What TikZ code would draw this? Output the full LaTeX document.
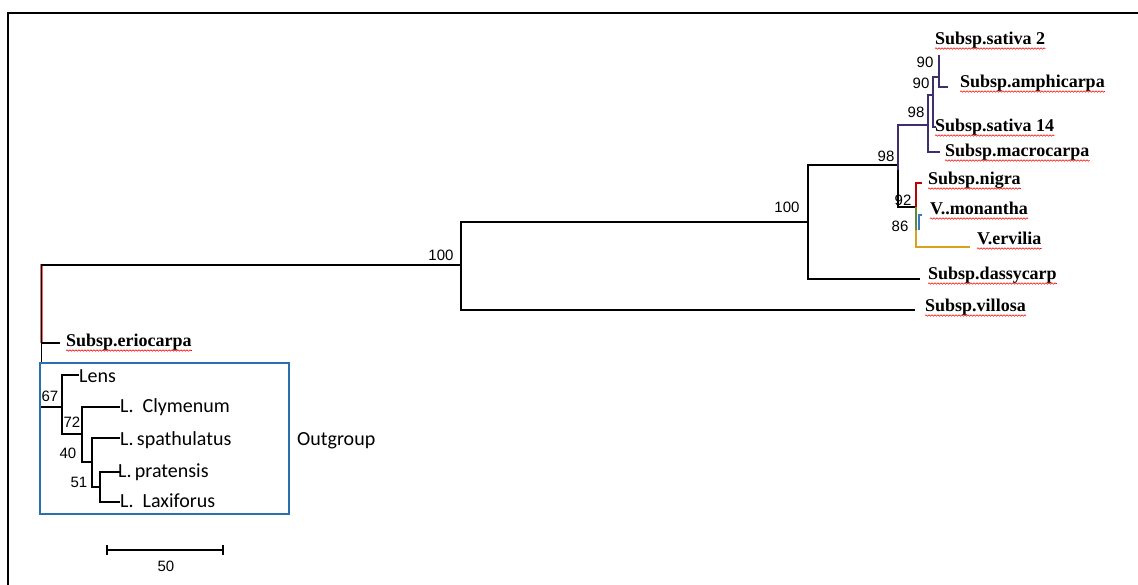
\documentclass[tikz,border=0pt]{standalone}
\usepackage{fontspec}
\setmainfont{Liberation Serif}
\newfontfamily\arialf{Liberation Sans}
\newfontfamily\calf{Carlito}
\usetikzlibrary{decorations.pathmorphing}
\definecolor{brred}{HTML}{D03030}
\definecolor{cpurple}{HTML}{3F2D6D}
\definecolor{cred}{HTML}{C00000}
\definecolor{cgreen}{HTML}{5E8A3A}
\definecolor{cblue}{HTML}{3A78C0}
\definecolor{cyellow}{HTML}{D9A21B}
\definecolor{boxblue}{HTML}{2A6FB0}
\tikzset{
  rb/.style={draw=black, line width=1.2pt, line join=miter, preaction={draw=brred!70!white, line width=2.4pt}},
  br/.style={draw=black, line width=1.3pt},
  og/.style={draw=black, line width=1.6pt},
  taxon/.style={inner sep=0pt, anchor=base west, font=\fontsize{18}{20}\selectfont\bfseries},
  ogtaxon/.style={inner sep=0pt, anchor=base west, font=\calf\fontsize{20}{22}\selectfont},
  boot/.style={inner sep=0pt, font=\arialf\fontsize{15}{17}\selectfont},
  wavy/.style={draw=red, line width=0.6pt, decorate, decoration={snake, amplitude=0.7pt, segment length=3pt}}
}
\newcommand{\wav}[1]{\draw[wavy] ([yshift=-3.5pt]#1.base west) -- ([yshift=-3.5pt]#1.base east);}
\begin{document}
\begin{tikzpicture}[x=1pt,y=-1pt]
\useasboundingbox (0,0) rectangle (1138,585);
% frame
\coordinate (F1) at (8,586);
\coordinate (F2) at (8,13);
\coordinate (F3) at (1139,13);
\draw[line width=2pt] (F1) -- (F2) -- (F3);

% main tree coordinates
\coordinate (R) at (41.5,265);
\coordinate (Rm) at (41.5,343);
\coordinate (Rb) at (41.5,363);
\coordinate (Teri) at (60,343);
\coordinate (N1) at (461,265);
\coordinate (N2) at (808,222);
\coordinate (Tvil) at (915,310);
\coordinate (Tdas) at (920,279);
\coordinate (NA) at (898,165);
\coordinate (NAm) at (898,170);
\coordinate (NB) at (928,125);
\coordinate (NC) at (933,95);
\coordinate (ND) at (939,77);
\coordinate (Ts2) at (939,55);
\coordinate (Tamp) at (948,87);
\coordinate (Ts14) at (936,127);
\coordinate (Tmac) at (940,152);
\coordinate (NN) at (916,207);
\coordinate (Tnig) at (922,183);
\coordinate (Nv) at (916,230);
\coordinate (Nb) at (919,230);
\coordinate (Tmon) at (922,215);
\coordinate (Terv) at (970,247);

% main branches
\draw[rb] (Rm) -- (R) -- (N1);
\draw[br] (Rm) -- (Rb);
\draw[br] (Rm) -- (Teri);
\draw[rb] (N1) |- (N2);
\draw[rb] (N1) |- (Tvil);
\draw[rb] (N2) |- (NA);
\draw[rb] (N2) |- (Tdas);
\draw[line width=1.3pt, cpurple] (NAm) |- (NB);
\draw[br] (NAm) |- (NN);
\draw[line width=1.3pt, cpurple] (NB) |- (NC);
\draw[line width=1.3pt, cpurple] (NB) |- (Tmac);
\draw[line width=1.3pt, cpurple] (NC) |- (ND);
\draw[line width=1.3pt, cpurple] (NC) |- (Ts14);
\draw[line width=1.3pt, cpurple] (ND) |- (Ts2);
\draw[line width=1.3pt, cpurple] (ND) |- (Tamp);
\draw[line width=1.3pt, cred] (NN) |- (Tnig);
\draw[line width=1.3pt, cgreen] (NN) -- (Nv);
\draw[line width=1.3pt, cblue] (Nb) |- (Tmon);
\draw[line width=1.3pt, cyellow] (Nv) |- (Terv);

% bootstrap values
\node[boot] (b1) at (441,255) {100};
\node[boot] (b2) at (787,207) {100};
\node[boot] (b3) at (886,156) {98};
\node[boot] (b4) at (916,112) {98};
\node[boot] (b5) at (921,83) {90};
\node[boot] (b6) at (925,62) {90};
\node[boot] (b7) at (903,200) {92};
\node[boot] (b8) at (900,226) {86};

% taxa
\node[taxon] (s2) at (935,45) {Subsp.sativa 2}; \wav{s2}
\node[taxon] (amp) at (960,88) {Subsp.amphicarpa}; \wav{amp}
\node[taxon] (s14) at (935,132) {Subsp.sativa 14}; \wav{s14}
\node[taxon] (mac) at (945,157) {Subsp.macrocarpa}; \wav{mac}
\node[taxon] (nig) at (928,185) {Subsp.nigra}; \wav{nig}
\node[taxon] (mon) at (930,215) {V..monantha}; \wav{mon}
\node[taxon] (erv) at (977,245) {V.ervilia}; \wav{erv}
\node[taxon] (das) at (928,280) {Subsp.dassycarp}; \wav{das}
\node[taxon] (vil) at (925,312) {Subsp.villosa}; \wav{vil}
\node[taxon] (eri) at (66,347) {Subsp.eriocarpa}; \wav{eri}

% outgroup
\coordinate (O0) at (40,407);
\coordinate (O1) at (62,407);
\coordinate (Tlens) at (79,375);
\coordinate (O2) at (82,434);
\coordinate (Tcly) at (120,407);
\coordinate (O3) at (92,462);
\coordinate (Tspa) at (120,438);
\coordinate (O4) at (100,487);
\coordinate (Tpra) at (120,472);
\coordinate (Tlax) at (120,502);
\draw[og] (O0) -- (O1);
\draw[og] (O1) |- (Tlens);
\draw[og] (O1) |- (O2);
\draw[og] (O2) |- (Tcly);
\draw[og] (O2) |- (O3);
\draw[og] (O3) |- (Tspa);
\draw[og] (O3) |- (O4);
\draw[og] (O4) |- (Tpra);
\draw[og] (O4) |- (Tlax);
\coordinate (B1) at (40,363);
\coordinate (B2) at (289,514);
\draw[boxblue, line width=2pt] (B1) rectangle (B2);

\node[boot] (o67) at (50,396) {67};
\node[boot] (o72) at (72,422) {72};
\node[boot] (o40) at (68,453) {40};
\node[boot] (o51) at (79,482) {51};

\node[ogtaxon] (lens) at (79,382) {Lens};
\node[ogtaxon] (cly) at (120,412) {L.\ \ Clymenum};
\node[ogtaxon] (spa) at (120,445) {L.\,spathulatus};
\node[ogtaxon] (pra) at (118,477) {L.\,pratensis};
\node[ogtaxon] (lax) at (120,507) {L.\ \ Laxiforus};
\node[ogtaxon] (outg) at (297,445) {Outgroup};

% scale bar
\coordinate (SB1) at (107,550);
\coordinate (SB2) at (223,550);
\draw[line width=1.3pt] (SB1) -- (SB2);
\draw[line width=1.3pt] ([yshift=5pt]SB1) -- ([yshift=-5pt]SB1);
\draw[line width=1.3pt] ([yshift=5pt]SB2) -- ([yshift=-5pt]SB2);
\node[boot] (fifty) at (166,566) {50};
\end{tikzpicture}
\end{document}
